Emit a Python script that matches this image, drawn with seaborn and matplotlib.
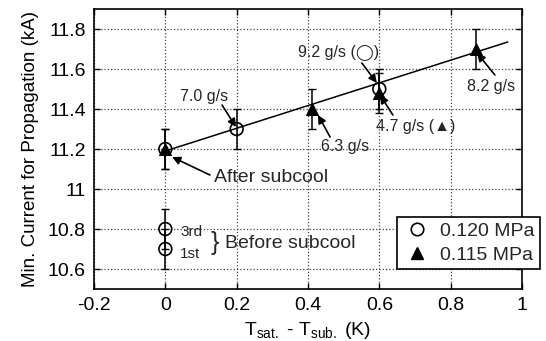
import numpy as np
import pandas as pd
import matplotlib
matplotlib.use("Agg")
import matplotlib.pyplot as plt
from matplotlib.lines import Line2D
import seaborn as sns

# ---- data ----
circ_x = [0.0, 0.2, 0.6]
circ_y = [11.2, 11.3, 11.5]
circ_err = [0.1, 0.1, 0.1]
tri_x = [0.0, 0.41, 0.6, 0.87]
tri_y = [11.2, 11.4, 11.48, 11.7]
tri_err = [0.1, 0.1, 0.1, 0.1]
before_x = [0.0, 0.0]
before_y = [10.8, 10.7]
before_err = [0.1, 0.1]
fit_x = [0.0, 0.96]
fit_y = [11.19, 11.735]
xticks = [-0.2, 0, 0.2, 0.4, 0.6, 0.8, 1]
xticklabels = ["-0.2", "0", "0.2", "0.4", "0.6", "0.8", "1"]
yticks = [10.6, 10.8, 11.0, 11.2, 11.4, 11.6, 11.8]
yticklabels = ["10.6", "10.8", "11", "11.2", "11.4", "11.6", "11.8"]
legend_labels = ["0.120 MPa", "0.115 MPa"]

sns.set_theme(style="ticks", rc={'axes.grid': True, 'grid.color': '#444444',
                                 'grid.linestyle': ':', 'grid.linewidth': 0.9})
plt.rcParams['font.family'] = ['Liberation Sans', 'DejaVu Sans']
plt.rcParams['mathtext.fontset'] = 'custom'
plt.rcParams['mathtext.rm'] = 'Liberation Sans'
plt.rcParams['mathtext.it'] = 'Liberation Sans'

fig = plt.figure(figsize=(5.46, 3.41), dpi=100)
ax = fig.add_axes([94/546, 1-289/341, (522-94)/546, (289-9)/341])

# fit line
sns.lineplot(x=fit_x, y=fit_y, ax=ax, color='black', linewidth=1.1, zorder=3)

# error bars
ax.errorbar(circ_x, circ_y, yerr=circ_err, fmt='none', ecolor='black',
            elinewidth=1.1, capsize=3, zorder=2)
ax.errorbar(tri_x, tri_y, yerr=tri_err, fmt='none', ecolor='black',
            elinewidth=1.1, capsize=3, zorder=2)
ax.errorbar(before_x, before_y, yerr=before_err, fmt='none', ecolor='black',
            elinewidth=1.1, capsize=3, zorder=2)

# markers
sns.scatterplot(x=circ_x + before_x, y=circ_y + before_y, ax=ax, marker='o',
                s=85, facecolor='none', edgecolor='black', linewidth=1.2, zorder=5)
sns.scatterplot(x=tri_x, y=tri_y, ax=ax, marker='^', s=75,
                color='black', edgecolor='black', zorder=4)

ax.set_xlim(-0.2, 1.0)
ax.set_ylim(10.5, 11.9)
ax.set_xticks(xticks)
ax.set_xticklabels(xticklabels)
ax.set_yticks(yticks)
ax.set_yticklabels(yticklabels)
ax.tick_params(direction='in', top=True, right=True, labelsize=14, length=4,
               width=1, color='black', labelcolor='black', pad=6)
for s in ax.spines.values():
    s.set_color('black')
    s.set_linewidth(1.2)
ax.set_axisbelow(True)
ax.grid(visible=True, which='major', axis='both', linestyle=':', color='#444444', linewidth=0.9)
for gl in ax.get_xgridlines() + ax.get_ygridlines():
    gl.set_visible(True)

ax.set_ylabel('Min. Current for Propagation (kA)', fontsize=13.5, color='black', labelpad=6)
ax.set_xlabel(r'T$_{\mathrm{sat.}}$ - T$_{\mathrm{sub.}}$ (K)', fontsize=14, color='black', labelpad=4)

arrow = dict(arrowstyle='-|>', color='black', lw=1.2, mutation_scale=12, shrinkA=0, shrinkB=0)
fs = 11.5
ax.text(0.487, 11.68, '9.2 g/s (◯)', ha='center', va='center', fontsize=fs)
ax.annotate('', xy=(0.593, 11.53), xytext=(0.551, 11.63), arrowprops=arrow)
ax.text(0.108, 11.46, '7.0 g/s', ha='center', va='center', fontsize=fs)
ax.annotate('', xy=(0.198, 11.31), xytext=(0.159, 11.42), arrowprops=arrow)
ax.text(0.504, 11.21, '6.3 g/s', ha='center', va='center', fontsize=fs)
ax.annotate('', xy=(0.428, 11.37), xytext=(0.462, 11.26), arrowprops=arrow)
ax.text(0.703, 11.31, '4.7 g/s (▲)', ha='center', va='center', fontsize=fs)
ax.annotate('', xy=(0.602, 11.47), xytext=(0.638, 11.37), arrowprops=arrow)
ax.text(0.913, 11.515, '8.2 g/s', ha='center', va='center', fontsize=fs)
ax.annotate('', xy=(0.874, 11.68), xytext=(0.924, 11.57), arrowprops=arrow)
ax.text(0.296, 11.06, 'After subcool', ha='center', va='center', fontsize=14)
ax.annotate('', xy=(0.019, 11.16), xytext=(0.125, 11.07), arrowprops=arrow)
ax.text(0.041, 10.785, '3rd', fontsize=11, ha='left', va='center')
ax.text(0.041, 10.675, '1st', fontsize=11, ha='left', va='center')
ax.text(0.139, 10.73, '}', fontsize=18, ha='center', va='center')
ax.text(0.167, 10.73, 'Before subcool', fontsize=14, ha='left', va='center')

handles = [Line2D([], [], marker='o', linestyle='none', markerfacecolor='none',
                  markeredgecolor='black', markersize=9, markeredgewidth=1.2),
           Line2D([], [], marker='^', linestyle='none', color='black', markersize=9)]
leg = ax.legend(handles, legend_labels, loc='upper left', bbox_to_anchor=(387/546, 1-207/341),
                bbox_transform=fig.transFigure, fontsize=14, frameon=True, fancybox=False,
                edgecolor='black', framealpha=1, borderpad=0.3, handletextpad=0.4,
                handlelength=1.5, labelspacing=0.3)
leg.get_frame().set_linewidth(1.2)
leg.set_zorder(10)

fig.savefig('out.png', dpi=100)
